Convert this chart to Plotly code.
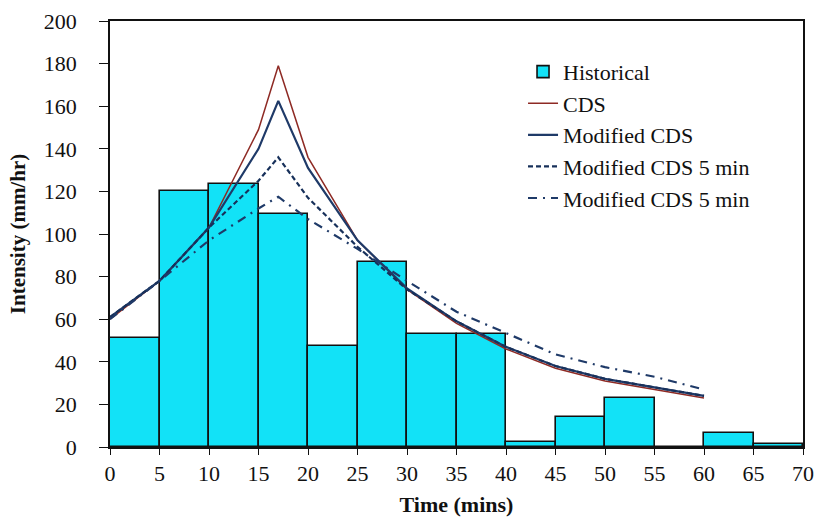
import plotly.graph_objects as go

# Histogram (5-min bins)
bin_centers = [2.5, 7.5, 12.5, 17.5, 22.5, 27.5, 32.5, 37.5, 42.5, 47.5, 52.5, 57.5, 62.5, 67.5]
historical = [51, 120, 123.5, 109.5, 47.5, 87, 53, 53, 2.5, 14, 23, 0, 6.4, 1.5]

# Design storm curves
t = [0, 5, 10, 15, 17, 20, 25, 30, 35, 40, 45, 50, 55, 60]
cds = [60, 78, 103, 149, 179, 136, 97, 74, 58, 46, 37, 31, 27, 23]
mod_cds = [61, 78, 103, 140, 162.5, 131, 97, 74.5, 59, 47, 38, 32, 28, 24]
mod_cds5_a = [61, 78, 103, 125, 136, 117, 94, 74, 59, 47, 38, 32, 28, 24]
mod_cds5_b = [60, 78, 97, 112, 117.5, 107, 93, 78, 63.5, 53.5, 43.5, 37.5, 33, 27]

x_ticks = list(range(0, 75, 5))
y_ticks = list(range(0, 220, 20))

fig = go.Figure()
fig.add_trace(go.Bar(x=bin_centers, y=historical, width=5, name="Historical",
                     marker=dict(color="#12E2F7", line=dict(color="#111111", width=1.6))))
fig.add_trace(go.Scatter(x=t, y=cds, mode="lines", name="CDS",
                         line=dict(color="#8E2A24", width=1.5)))
fig.add_trace(go.Scatter(x=t, y=mod_cds, mode="lines", name="Modified CDS",
                         line=dict(color="#1F3A68", width=2.2)))
fig.add_trace(go.Scatter(x=t, y=mod_cds5_a, mode="lines", name="Modified CDS 5 min",
                         line=dict(color="#17305A", width=2.2, dash="5px,3px")))
fig.add_trace(go.Scatter(x=t, y=mod_cds5_b, mode="lines", name="Modified CDS 5 min",
                         line=dict(color="#1F3A68", width=2.2, dash="9px,6px,2px,6px")))

font_family = "Liberation Serif"
fig.update_layout(
    width=817, height=517,
    margin=dict(l=110, r=14, t=21, b=70),
    paper_bgcolor="white", plot_bgcolor="white",
    bargap=0,
    font=dict(family=font_family, size=22, color="#111111"),
    showlegend=True,
    legend=dict(x=0.596, y=0.93, xanchor="left", yanchor="top",
                bgcolor="rgba(255,255,255,0)", font=dict(size=22, family=font_family),
                tracegroupgap=0, itemwidth=30),
    xaxis=dict(range=[0, 70], tickvals=x_ticks, ticks="outside", ticklen=6,
               tickcolor="#111111", showline=True, linecolor="#111111", linewidth=1.5,
               mirror=True, showgrid=False, zeroline=False, automargin=False,
               title=dict(text="<b>Time (mins)</b>", font=dict(size=22, family=font_family), standoff=14),
               tickfont=dict(size=22, family=font_family)),
    yaxis=dict(range=[0, 200], tickvals=y_ticks, ticks="outside", ticklen=9,
               tickcolor="#111111", showline=True, linecolor="#111111", linewidth=1.5,
               mirror=True, showgrid=False, zeroline=False, automargin=False,
               ticklabelstandoff=18,
               title=dict(text="<b>Intensity (mm/hr)</b>", font=dict(size=21, family=font_family), standoff=12),
               tickfont=dict(size=22, family=font_family)),
)

# remove the default 8px page margin so the figure fills the window exactly
fig.write_html("out.html", config={"displayModeBar": False},
               post_script="document.body.style.margin='0';")
